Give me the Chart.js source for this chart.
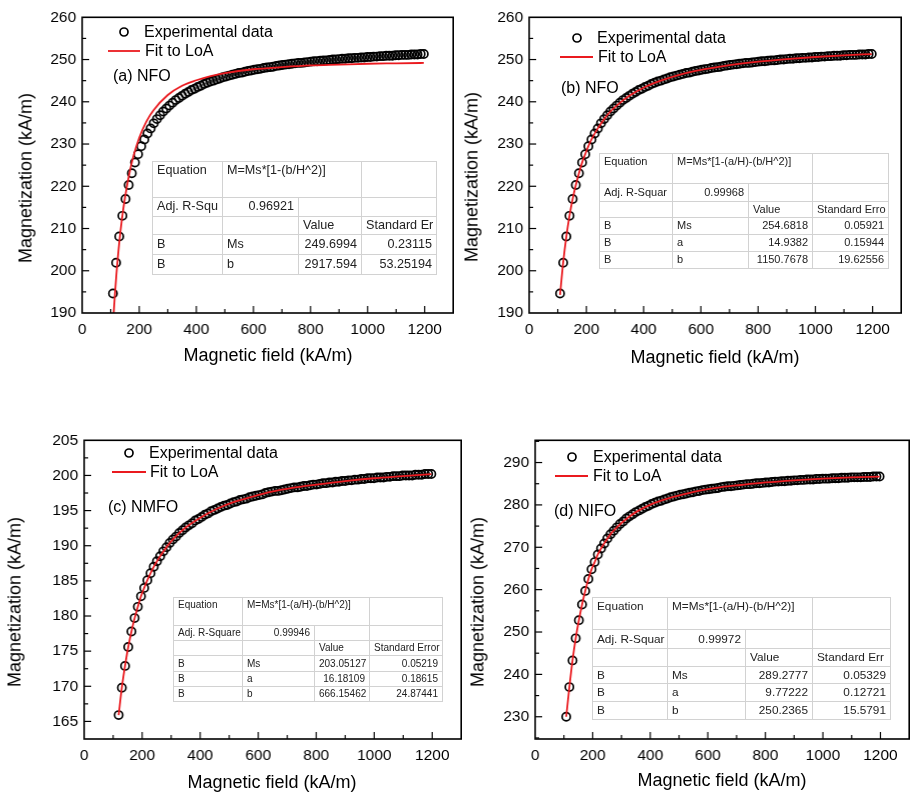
<!DOCTYPE html>
<html>
<head>
<meta charset="utf-8">
<script src="https://cdn.jsdelivr.net/npm/chart.js@4.4.1/dist/chart.umd.min.js"></script>
<style>
  html, body { margin: 0; padding: 0; background: #fff; width: 910px; height: 796px; overflow: hidden; }
  body { position: relative; font-family: "Liberation Sans", Arial, sans-serif; }
  canvas { position: absolute; }
  .txt { position: absolute; white-space: nowrap; color: #000; transform: translateY(-50%); font-size: 16px; line-height: 1; }
  .xtitle { position: absolute; white-space: nowrap; transform: translate(-50%, -50%); font-size: 18px; }
  .ytitle { position: absolute; white-space: nowrap; transform: translate(-50%, -50%) rotate(-90deg); font-size: 18px; }
  svg.mk { position: absolute; overflow: visible; }
  table.fit { position: absolute; border-collapse: collapse; table-layout: fixed; border: 1px solid #a9a9a9; color: #222; }
  table.fit td { border: 1px solid #d2d2d2; padding: 0 4px; overflow: hidden; white-space: nowrap; line-height: 1.2; vertical-align: middle; }
  table.fit tr.head td { vertical-align: top; padding-top: 1px; }
  table.fit td.r { text-align: right; }
</style>
</head>
<body>
<script>
// magnetic field values (kA/m) of the measured points
const fieldH = [108, 119, 130, 141, 152, 163, 174, 185, 196, 207, 218, 229, 240, 251, 262, 273, 284, 295, 306, 317,
  328, 339, 350, 361, 372, 383, 394, 405, 416, 427, 438, 449, 460, 471, 482, 493, 504, 515, 526, 537,
  548, 559, 570, 581, 592, 603, 614, 625, 636, 647, 658, 669, 680, 691, 702, 713, 724, 735, 746, 757,
  768, 779, 790, 801, 812, 823, 834, 845, 856, 867, 878, 889, 900, 911, 922, 933, 944, 955, 966, 977,
  988, 999, 1010, 1021, 1032, 1043, 1054, 1065, 1076, 1087, 1098, 1109, 1120, 1131, 1142, 1153, 1164, 1175, 1186, 1197];

// NFO (panels a and b)
const magNFO = [194.6, 201.9, 208.1, 213.0, 217.0, 220.3, 223.1, 225.6, 227.6, 229.5,
  231.1, 232.5, 233.7, 234.9, 235.9, 236.8, 237.7, 238.4, 239.1, 239.8,
  240.4, 240.9, 241.4, 241.9, 242.3, 242.8, 243.1, 243.5, 243.8, 244.2,
  244.5, 244.8, 245.0, 245.3, 245.5, 245.8, 246.0, 246.2, 246.4, 246.6,
  246.8, 246.9, 247.1, 247.3, 247.4, 247.6, 247.7, 247.8, 248.0, 248.1,
  248.2, 248.3, 248.5, 248.6, 248.7, 248.8, 248.9, 249.0, 249.1, 249.2,
  249.2, 249.3, 249.4, 249.5, 249.6, 249.6, 249.7, 249.8, 249.8, 249.9,
  250.0, 250.0, 250.1, 250.2, 250.2, 250.3, 250.3, 250.4, 250.4, 250.5,
  250.5, 250.6, 250.6, 250.7, 250.7, 250.8, 250.8, 250.9, 250.9, 250.9,
  251.0, 251.0, 251.1, 251.1, 251.1, 251.2, 251.2, 251.2, 251.3, 251.3];

// NMFO (panel c), starts at the second field value
const magNMFO = [165.9, 169.8, 172.9, 175.6, 177.8, 179.7, 181.3, 182.8, 184.0, 185.1,
  186.1, 187.0, 187.8, 188.5, 189.2, 189.8, 190.4, 190.9, 191.3, 191.8,
  192.2, 192.6, 192.9, 193.2, 193.6, 193.8, 194.1, 194.4, 194.6, 194.9,
  195.1, 195.3, 195.5, 195.7, 195.8, 196.0, 196.2, 196.3, 196.5, 196.6,
  196.7, 196.9, 197.0, 197.1, 197.2, 197.3, 197.5, 197.6, 197.7, 197.8,
  197.8, 197.9, 198.0, 198.1, 198.2, 198.3, 198.3, 198.4, 198.5, 198.5,
  198.6, 198.7, 198.7, 198.8, 198.9, 198.9, 199.0, 199.0, 199.1, 199.1,
  199.2, 199.2, 199.3, 199.3, 199.4, 199.4, 199.5, 199.5, 199.6, 199.6,
  199.6, 199.7, 199.7, 199.7, 199.8, 199.8, 199.9, 199.9, 199.9, 200.0,
  200.0, 200.0, 200.0, 200.1, 200.1, 200.1, 200.2, 200.2, 200.2];

// NIFO (panel d)
const magNIFO = [230.0, 237.0, 243.3, 248.5, 252.8, 256.5, 259.7, 262.5, 264.8, 266.5,
  268.3, 269.7, 270.9, 272.1, 273.1, 273.9, 274.7, 275.5, 276.1, 276.8,
  277.3, 277.8, 278.3, 278.7, 279.1, 279.5, 279.8, 280.2, 280.5, 280.8,
  281.0, 281.3, 281.5, 281.8, 282.0, 282.2, 282.4, 282.5, 282.7, 282.9,
  283.0, 283.2, 283.3, 283.5, 283.6, 283.7, 283.8, 283.9, 284.0, 284.2,
  284.3, 284.4, 284.4, 284.5, 284.6, 284.7, 284.8, 284.9, 284.9, 285.0,
  285.1, 285.1, 285.2, 285.3, 285.3, 285.4, 285.5, 285.5, 285.6, 285.6,
  285.7, 285.7, 285.8, 285.8, 285.9, 285.9, 286.0, 286.0, 286.0, 286.1,
  286.1, 286.2, 286.2, 286.2, 286.3, 286.3, 286.3, 286.4, 286.4, 286.4,
  286.5, 286.5, 286.5, 286.5, 286.6, 286.6, 286.6, 286.7, 286.7, 286.7];

// fit curves
const fitFieldA = [110.5, 115, 120, 130, 140, 150, 165, 180, 200, 225, 250, 300, 350, 400, 450, 500, 600, 700, 800, 900, 1000, 1100, 1197];
const fitNFOa = [190.0, 194.6, 199.1, 206.6, 212.5, 217.3, 222.9, 227.2, 231.5, 235.3, 238.0, 241.6, 243.8, 245.1, 246.1, 246.8, 247.7, 248.2, 248.6, 248.8, 249.0, 249.1, 249.2];
const fitField = [108, 119, 130, 141, 152, 163, 174, 185, 196, 207, 218, 240, 262, 284, 306, 350, 405, 460, 515, 581, 647, 713, 801, 900, 999, 1098, 1197];
const fitNFOb = [194.3, 202.0, 208.1, 213.0, 217.0, 220.3, 223.1, 225.6, 227.6, 229.5, 231.1, 233.7, 235.9, 237.7, 239.1, 241.4, 243.5, 245.0, 246.2, 247.3, 248.1, 248.8, 249.5, 250.1, 250.6, 251.0, 251.3];
const fitNMFO = [165.9, 169.8, 172.9, 175.6, 177.8, 179.7, 181.3, 182.8, 184.0, 185.1, 187.0, 188.5, 189.8, 190.9, 192.6, 194.1, 195.3, 196.2, 197.0, 197.7, 198.2, 198.7, 199.2, 199.6, 199.9, 200.2];
const fitNIFO = [230.0, 237.0, 243.3, 248.5, 252.8, 256.5, 259.7, 262.5, 264.8, 266.5, 268.3, 270.9, 273.1, 274.7, 276.1, 278.3, 280.2, 281.5, 282.5, 283.5, 284.2, 284.7, 285.3, 285.8, 286.2, 286.5, 286.7];

// tick labels
const xTicks = [0, 200, 400, 600, 800, 1000, 1200];
const yTicksNFO = [190, 200, 210, 220, 230, 240, 250, 260];
const yTicksNMFO = [165, 170, 175, 180, 185, 190, 195, 200, 205];
const yTicksNIFO = [230, 240, 250, 260, 270, 280, 290];

// fit result tables
const tableA = [
  ['Equation', 'M=Ms*[1-(b/H^2)]', ''],
  ['Adj. R-Squ', '0.96921', '', ''],
  ['', '', 'Value', 'Standard Er'],
  ['B', 'Ms', '249.6994', '0.23115'],
  ['B', 'b', '2917.594', '53.25194']
];
const tableB = [
  ['Equation', 'M=Ms*[1-(a/H)-(b/H^2)]', ''],
  ['Adj. R-Squar', '0.99968', '', ''],
  ['', '', 'Value', 'Standard Erro'],
  ['B', 'Ms', '254.6818', '0.05921'],
  ['B', 'a', '14.9382', '0.15944'],
  ['B', 'b', '1150.7678', '19.62556']
];
const tableC = [
  ['Equation', 'M=Ms*[1-(a/H)-(b/H^2)]', ''],
  ['Adj. R-Square', '0.99946', '', ''],
  ['', '', 'Value', 'Standard Error'],
  ['B', 'Ms', '203.05127', '0.05219'],
  ['B', 'a', '16.18109', '0.18615'],
  ['B', 'b', '666.15462', '24.87441']
];
const tableD = [
  ['Equation', 'M=Ms*[1-(a/H)-(b/H^2)]', ''],
  ['Adj. R-Squar', '0.99972', '', ''],
  ['', '', 'Value', 'Standard Err'],
  ['B', 'Ms', '289.2777', '0.05329'],
  ['B', 'a', '9.77222', '0.12721'],
  ['B', 'b', '250.2365', '15.5791']
];

const RED = '#ea1a1f';
const FONT = '"Liberation Sans", Arial, sans-serif';
Chart.defaults.font.family = FONT;
Chart.defaults.color = '#000';

const panels = [
  { area: { l: 82, t: 17, r: 453, b: 313 }, yMin: 190, yMax: 260, yTicks: yTicksNFO,
    px: fieldH, py: magNFO, fx: fitFieldA, fy: fitNFOa, label: '(a) NFO',
    leg: { cx: 124, cy: 32, tx: 144, lx0: 108, lx1: 140, ly: 51, t2x: 145, labx: 113, laby: 76 },
    ytitle: [26, 178], xtitle: [268, 355],
    tbl: { x: 152, y: 161, cols: [70, 76, 63, 75], rows: [36, 19, 18, 20, 20], fs: 12.6, rows_: tableA } },
  { area: { l: 529, t: 17, r: 901, b: 313 }, yMin: 190, yMax: 260, yTicks: yTicksNFO,
    px: fieldH, py: magNFO, fx: fitField, fy: fitNFOb, label: '(b) NFO',
    leg: { cx: 577, cy: 38, tx: 597, lx0: 560, lx1: 593, ly: 57, t2x: 598, labx: 561, laby: 88 },
    ytitle: [472, 177], xtitle: [715, 357],
    tbl: { x: 599, y: 153, cols: [73, 76, 64, 76], rows: [30, 18, 16, 17, 17, 17], fs: 11, rows_: tableB } },
  { area: { l: 84, t: 440, r: 461, b: 739 }, yMin: 162.5, yMax: 205, yTicks: yTicksNMFO,
    px: fieldH.slice(1), py: magNMFO, fx: fitField.slice(1), fy: fitNMFO, label: '(c) NMFO',
    leg: { cx: 129, cy: 453, tx: 149, lx0: 112, lx1: 146, ly: 472, t2x: 150, labx: 108, laby: 507 },
    ytitle: [15, 602], xtitle: [272, 782],
    tbl: { x: 173, y: 597, cols: [69, 72, 55, 73], rows: [28, 15, 15, 16, 15, 15], fs: 10, rows_: tableC } },
  { area: { l: 535, t: 440, r: 909, b: 739 }, yMin: 224.75, yMax: 295.25, yTicks: yTicksNIFO,
    px: fieldH, py: magNIFO, fx: fitField, fy: fitNIFO, label: '(d) NIFO',
    leg: { cx: 572, cy: 457, tx: 593, lx0: 555, lx1: 588, ly: 476, t2x: 593, labx: 554, laby: 511 },
    ytitle: [478, 602], xtitle: [722, 780],
    tbl: { x: 592, y: 597, cols: [75, 78, 67, 78], rows: [32, 19, 18, 17, 18, 18], fs: 11.8, rows_: tableD } }
];

// frame and inward Origin-style ticks
const originFrame = {
  id: 'originFrame',
  afterDraw(chart) {
    const { ctx, chartArea: a, scales: { x, y } } = chart;
    ctx.save();
    ctx.strokeStyle = '#000';
    ctx.lineWidth = 1.2;
    const marks = (scale, vals, horiz) => {
      const step = vals[1] - vals[0];
      const all = [];
      vals.forEach(v => { all.push([v, 7]); all.push([v + step / 2, 4]); });
      all.push([vals[0] - step / 2, 4]);
      all.forEach(([v, len]) => {
        if (v <= scale.min || v >= scale.max) return;
        const p = scale.getPixelForValue(v);
        ctx.beginPath();
        if (horiz) { ctx.moveTo(p, a.bottom); ctx.lineTo(p, a.bottom - len); }
        else { ctx.moveTo(a.left, p); ctx.lineTo(a.left + len, p); }
        ctx.stroke();
      });
    };
    marks(x, xTicks, true);
    marks(y, chart.options.scales.y.majors, false);
    ctx.lineWidth = 1.6;
    ctx.strokeRect(a.left, a.top, a.right - a.left, a.bottom - a.top);
    ctx.restore();
  }
};

function addDiv(cls, text, x, y) {
  const d = document.createElement('div');
  d.className = cls;
  d.textContent = text;
  d.style.left = x + 'px';
  d.style.top = y + 'px';
  document.body.appendChild(d);
  return d;
}

function addTable(tb) {
  const t = document.createElement('table');
  t.className = 'fit';
  t.style.left = tb.x + 'px';
  t.style.top = tb.y + 'px';
  t.style.width = tb.cols.reduce((s, c) => s + c, 0) + 'px';
  t.style.fontSize = tb.fs + 'px';
  const cg = document.createElement('colgroup');
  tb.cols.forEach(w => { const c = document.createElement('col'); c.style.width = w + 'px'; cg.appendChild(c); });
  t.appendChild(cg);
  const body = document.createElement('tbody');
  tb.rows_.forEach((row, ri) => {
    const tr = document.createElement('tr');
    if (ri === 0) tr.className = 'head';
    tr.style.height = tb.rows[ri] + 'px';
    row.forEach((txt, ci) => {
      const td = document.createElement('td');
      td.textContent = txt;
      if (ri === 0 && ci === 1) td.colSpan = 2;
      if (ri === 1 && ci === 1) td.className = 'r';
      if (ri >= 3 && ci >= 2) td.className = 'r';
      tr.appendChild(td);
    });
    body.appendChild(tr);
  });
  t.appendChild(body);
  document.body.appendChild(t);
}

function addLegend(p) {
  const g = p.leg;
  const ns = 'http://www.w3.org/2000/svg';
  const svg = document.createElementNS(ns, 'svg');
  svg.setAttribute('class', 'mk');
  svg.setAttribute('width', '1');
  svg.setAttribute('height', '1');
  svg.style.left = '0px';
  svg.style.top = '0px';
  const c = document.createElementNS(ns, 'circle');
  c.setAttribute('cx', g.cx); c.setAttribute('cy', g.cy); c.setAttribute('r', 4);
  c.setAttribute('fill', 'none'); c.setAttribute('stroke', '#000'); c.setAttribute('stroke-width', 1.7);
  const l = document.createElementNS(ns, 'line');
  l.setAttribute('x1', g.lx0); l.setAttribute('x2', g.lx1);
  l.setAttribute('y1', g.ly); l.setAttribute('y2', g.ly);
  l.setAttribute('stroke', RED); l.setAttribute('stroke-width', 1.8);
  svg.appendChild(c); svg.appendChild(l);
  document.body.appendChild(svg);
  addDiv('txt', 'Experimental data', g.tx, g.cy);
  addDiv('txt', 'Fit to LoA', g.t2x, g.ly);
  addDiv('txt', p.label, g.labx, g.laby);
}

function buildChart(p, left, top, W, H) {
  const cv = document.createElement('canvas');
  cv.width = W; cv.height = H;
  cv.style.width = W + 'px'; cv.style.height = H + 'px';
  cv.style.left = left + 'px';
  cv.style.top = top + 'px';
  document.body.appendChild(cv);

  return new Chart(cv, {
    type: 'scatter',
    data: {
      datasets: [
        {
          type: 'line',
          label: 'Fit to LoA',
          data: p.fx.map((h, i) => ({ x: h, y: p.fy[i] })),
          borderColor: RED,
          borderWidth: 1.8,
          pointRadius: 0,
          fill: false,
          cubicInterpolationMode: 'monotone'
        },
        {
          label: 'Experimental data',
          data: p.px.map((h, i) => ({ x: h, y: p.py[i] })),
          pointStyle: 'circle',
          pointRadius: 4.1,
          borderWidth: 1.7,
          borderColor: '#000',
          pointBorderColor: '#000',
          backgroundColor: 'rgba(0,0,0,0)',
          pointBackgroundColor: 'rgba(0,0,0,0)'
        }
      ]
    },
    options: {
      responsive: false,
      animation: false,
      devicePixelRatio: 1,
      layout: { padding: { left: 0, top: 12, right: 2, bottom: 0 } },
      plugins: { legend: { display: false }, tooltip: { enabled: false } },
      scales: {
        x: {
          type: 'linear', min: 0, max: 1300,
          afterBuildTicks: ax => { ax.ticks = xTicks.map(v => ({ value: v })); },
          afterFit: ax => { ax.height = 60; },
          grid: { display: false, drawTicks: false },
          border: { display: false },
          ticks: { font: { size: 15.5 }, padding: 7, maxRotation: 0, autoSkip: false, callback: v => String(v) }
        },
        y: {
          type: 'linear', min: p.yMin, max: p.yMax,
          majors: p.yTicks,
          afterBuildTicks: ax => { ax.ticks = p.yTicks.map(v => ({ value: v })); },
          afterFit: ax => { ax.width = 70; },
          grid: { display: false, drawTicks: false },
          border: { display: false },
          ticks: { font: { size: 15.5 }, padding: 6, autoSkip: false, callback: v => String(v) }
        }
      }
    },
    plugins: [originFrame]
  });
}

panels.forEach(p => {
  const A = p.area;
  let left = A.l - 70, top = A.t - 12;
  let W = A.r - A.l + 72, H = A.b - A.t + 72;
  // first pass, then correct the canvas so the plot area lands where the reference has it
  let ch = buildChart(p, left, top, W, H);
  const ca = ch.chartArea;
  const nl = left + (A.l - (left + ca.left));
  const nt = top + (A.t - (top + ca.top));
  const nW = W + ((A.r - A.l) - (ca.right - ca.left));
  const nH = H + ((A.b - A.t) - (ca.bottom - ca.top));
  if (nl !== left || nt !== top || nW !== W || nH !== H) {
    const cv = ch.canvas;
    ch.destroy();
    cv.remove();
    ch = buildChart(p, nl, nt, nW, nH);
  }

  addDiv('ytitle', 'Magnetization (kA/m)', p.ytitle[0], p.ytitle[1]);
  addDiv('xtitle', 'Magnetic field (kA/m)', p.xtitle[0], p.xtitle[1]);
  addLegend(p);
  addTable(p.tbl);
});
</script>
</body>
</html>
